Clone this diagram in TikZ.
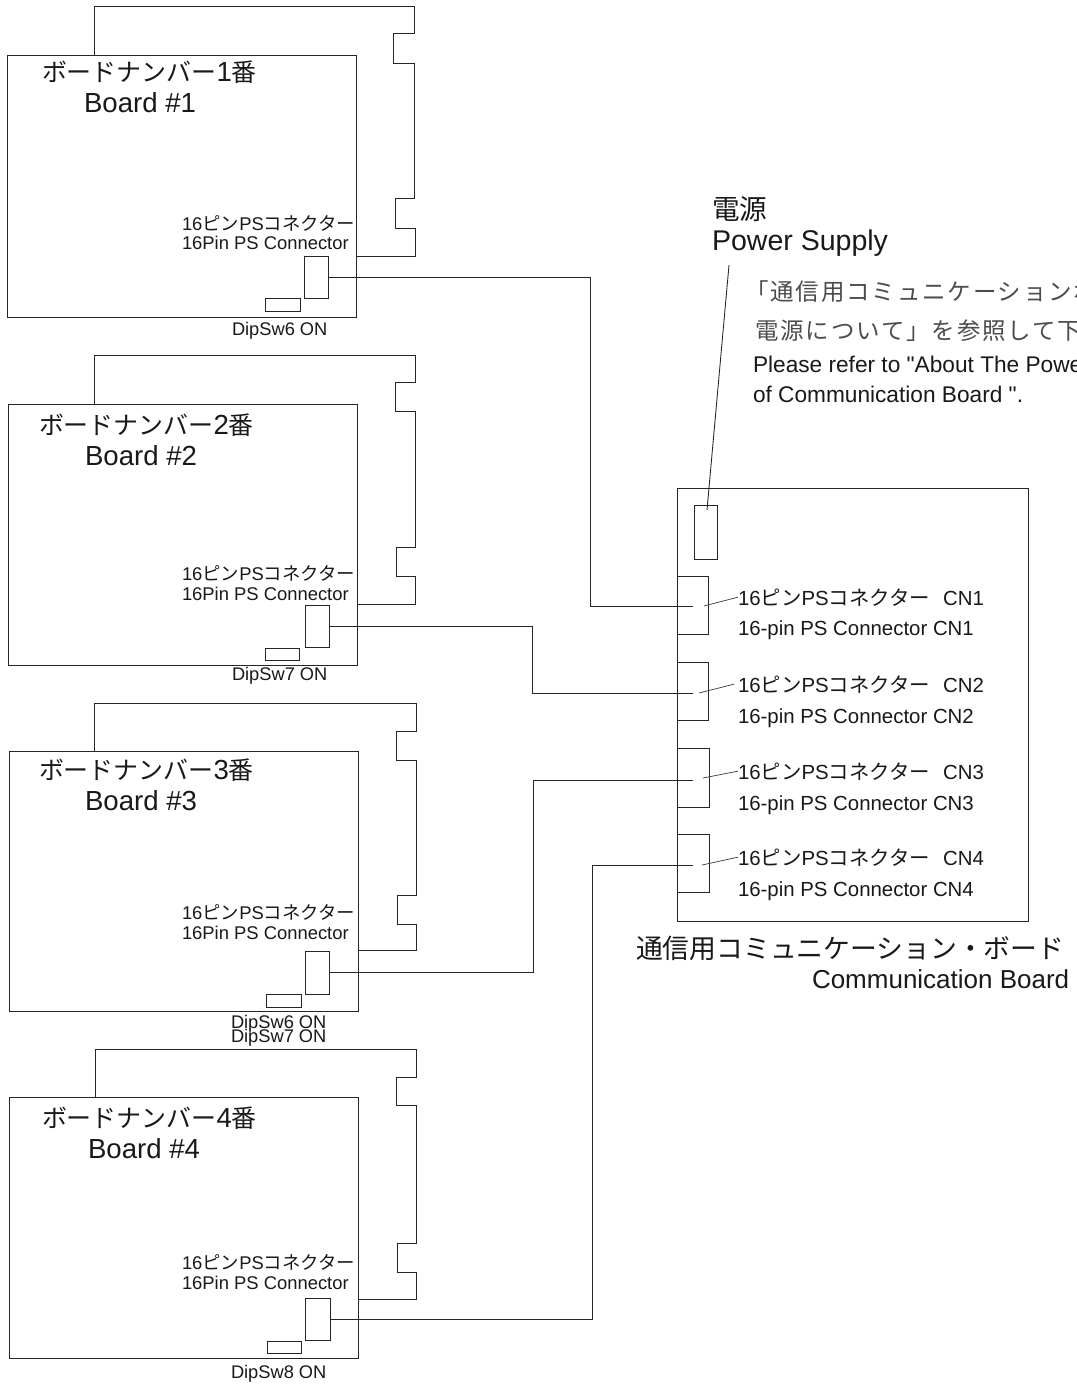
\documentclass[tikz,border=0pt]{standalone}
\usepackage{fontspec}
\setmainfont{Liberation Sans}
\newfontfamily\plainlat{Liberation Sans}
\newfontfamily\cjk{Noto Sans CJK JP}
\newfontfamily\cjkw[LetterSpace=8]{Noto Sans CJK JP}
\newcommand{\jp}[1]{{\cjk #1}}
\newcommand{\jpw}[1]{{\cjkw #1}}
\newcommand{\jpt}[1]{{\fontsize{18.7pt}{20pt}\selectfont\cjk #1}}
\tikzset{
  line/.style={draw=black!85,line width=0.72pt},
  partbox/.style={line,rectangle,inner sep=0pt,outer sep=0pt},
  wire/.style={line,line join=miter},
  leader/.style={draw=black!75,line width=0.55pt},
  txt/.style={anchor=base west,inner sep=0pt,outer sep=0pt,text=black!90},
  bighead/.style={txt,font=\fontsize{20.7pt}{22pt}\selectfont},
  smalllab/.style={txt,font=\fontsize{13.8pt}{15pt}\selectfont},
  diplab/.style={txt,font=\fontsize{13.7pt}{15pt}\selectfont},
  cnlab/.style={txt,font=\fontsize{15.3pt}{17pt}\selectfont},
  notejp/.style={txt,text=black!70,font=\fontsize{17.6pt}{19pt}\selectfont},
  noteen/.style={txt,font=\plainlat\fontsize{17pt}{18pt}\selectfont},
}
% rectangle node given by its corners in reference pixels
\newcommand{\rectnode}[5]{\node[partbox,minimum width={(#4-#2)*0.75pt},minimum height={(#5-#3)*0.75pt}] (#1) at ({(#2+#4)/2},{(#3+#5)/2}) {};}
\begin{document}
\begin{tikzpicture}[x=0.75pt,y=-0.75pt]
\useasboundingbox (0,0) rectangle (1077,1384);
\clip (0,0) rectangle (1077,1384);
\fill[white] (0,0) rectangle (1077,1384);

% ---------- Board 1
\rectnode{b1}{7}{55}{356}{317}
\rectnode{c1}{304}{256}{328}{298}
\rectnode{d1}{265}{298}{300}{311}
\draw[wire] (94,55) -- (94,6) -- (414,6) -- (414,33) -- (393,33) -- (393,63) -- (414,63) -- (414,198) -- (395,198) -- (395,228) -- (415,228) -- (415,256) -- (356,256);
\node[bighead] (b1j) at (42,82) {\jpt{ボードナンバー}1\jpt{番}};
\node[bighead] (b1e) at (84,113) {Board \#1};
\node[smalllab] (b1s) at (182,230) {16\jp{ピン}PS\jp{コネクター}};
\node[smalllab] (b1p) at (182,249) {16Pin PS Connector};
\node[diplab] (b1d) at (232,335) {DipSw6 ON};

% ---------- Board 2
\rectnode{b2}{8}{404}{357}{665}
\rectnode{c2}{305}{605}{329}{647}
\rectnode{d2}{265}{648}{299}{660}
\draw[wire] (94,404) -- (94,355) -- (415,355) -- (415,382) -- (395,382) -- (395,411) -- (415,411) -- (415,547) -- (396,547) -- (396,576) -- (415,576) -- (415,604) -- (357,604);
\node[bighead] (b2j) at (39,434) {\jpt{ボードナンバー}2\jpt{番}};
\node[bighead] (b2e) at (85,465) {Board \#2};
\node[smalllab] (b2s) at (182,580) {16\jp{ピン}PS\jp{コネクター}};
\node[smalllab] (b2p) at (182,600) {16Pin PS Connector};
\node[diplab] (b2d) at (232,680) {DipSw7 ON};

% ---------- Board 3
\rectnode{b3}{9}{751}{358}{1011}
\rectnode{c3}{305}{951}{329}{994}
\rectnode{d3}{266}{994}{301}{1007}
\draw[wire] (94,751) -- (94,703) -- (416,703) -- (416,731) -- (396,731) -- (396,760) -- (416,760) -- (416,895) -- (397,895) -- (397,924) -- (416,924) -- (416,950) -- (358,950);
\node[bighead] (b3j) at (39,779) {\jpt{ボードナンバー}3\jpt{番}};
\node[bighead] (b3e) at (85,810) {Board \#3};
\node[smalllab] (b3s) at (182,919) {16\jp{ピン}PS\jp{コネクター}};
\node[smalllab] (b3p) at (182,939) {16Pin PS Connector};
\node[diplab] (b3d) at (231,1028) {DipSw6 ON};
\node[diplab] (b3f) at (231,1042) {DipSw7 ON};

% ---------- Board 4
\rectnode{b4}{9}{1097}{358}{1358}
\rectnode{c4}{305}{1298}{330}{1340}
\rectnode{d4}{267}{1341}{301}{1353}
\draw[wire] (95,1097) -- (95,1049) -- (416,1049) -- (416,1077) -- (396,1077) -- (396,1105) -- (416,1105) -- (416,1243) -- (397,1243) -- (397,1272) -- (416,1272) -- (416,1299) -- (358,1299);
\node[bighead] (b4j) at (42,1127) {\jpt{ボードナンバー}4\jpt{番}};
\node[bighead] (b4e) at (88,1158) {Board \#4};
\node[smalllab] (b4s) at (182,1269) {16\jp{ピン}PS\jp{コネクター}};
\node[smalllab] (b4p) at (182,1289) {16Pin PS Connector};
\node[diplab] (b4d) at (231,1378) {DipSw8 ON};

% ---------- Communication board
\rectnode{comm}{677}{488}{1028}{921}
\rectnode{pw}{694}{505}{717}{559}
\rectnode{cn1}{677}{576}{708}{634}
\rectnode{cn2}{677}{662}{708}{720}
\rectnode{cn3}{677}{748}{709}{807}
\rectnode{cn4}{677}{834}{709}{892}

\coordinate (in1) at (693,606);
\coordinate (in2) at (693,693);
\coordinate (in3) at (693,780);
\coordinate (in4) at (693,865);
\draw[wire] (c1.east) -- (590,277) -- (590,606) -- (in1);
\draw[wire] (c2.east) -- (532,626) -- (532,693) -- (in2);
\draw[wire] (c3.east) -- (533,972.5) -- (533,780) -- (in3);
\draw[wire] (c4.east) -- (592,1319) -- (592,865) -- (in4);

\node[cnlab] (j1) at (738,605) {16\jp{ピン}PS\jp{コネクター}\hspace{10pt}CN1};
\node[cnlab] (e1) at (738,635) {16-pin PS Connector CN1};
\node[cnlab] (j2) at (738,692) {16\jp{ピン}PS\jp{コネクター}\hspace{10pt}CN2};
\node[cnlab] (e2) at (738,723) {16-pin PS Connector CN2};
\node[cnlab] (j3) at (738,779) {16\jp{ピン}PS\jp{コネクター}\hspace{10pt}CN3};
\node[cnlab] (e3) at (738,810) {16-pin PS Connector CN3};
\node[cnlab] (j4) at (738,865) {16\jp{ピン}PS\jp{コネクター}\hspace{10pt}CN4};
\node[cnlab] (e4) at (738,896) {16-pin PS Connector CN4};

\coordinate (l1) at (704,606);
\coordinate (l2) at (699,693);
\coordinate (l3) at (703,778);
\coordinate (l4) at (702,865);
\draw[leader] (l1) -- (j1.west);
\draw[leader] (l2) -- ([xshift=-3pt]j2.west);
\draw[leader] (l3) -- (j3.west);
\draw[leader] (l4) -- (j4.west);

% ---------- Power supply
\node[bighead] (pj) at (712,219.5) {\jp{電源}};
\node[bighead,font=\fontsize{21.4pt}{23pt}\selectfont] (pe) at (712,250) {Power Supply};
\coordinate (pl) at (729,265);
\coordinate (pt) at (707,510);
\draw[wire,line width=0.65pt] (pl) -- (pt);

\node[notejp] (n1) at (745,300) {\jpw{「通信用コミュニケーションボ}};
\node[notejp] (n2) at (755,339) {\jpw{電源について」を参照して下}};
\node[noteen] (n3) at (753,372) {Please refer to "About The Power};
\node[noteen] (n4) at (753,402) {of Communication Board ".};

\node[bighead,font=\fontsize{20.1pt}{22pt}\selectfont] (cj) at (636,958) {\jp{通信用コミュニケーション・ボード}};
\node[bighead,font=\fontsize{19.5pt}{21pt}\selectfont] (ce) at (812,988) {Communication Board};
\end{tikzpicture}
\end{document}
